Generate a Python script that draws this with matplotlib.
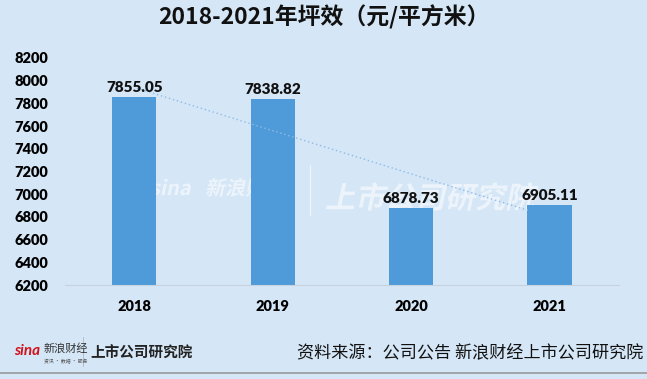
import numpy as np
import matplotlib.pyplot as plt
from matplotlib.textpath import TextPath
from matplotlib.patches import PathPatch
from matplotlib.font_manager import FontProperties
from matplotlib.transforms import Affine2D

plt.rcParams['font.family'] = ['Noto Sans CJK SC', 'DejaVu Sans']

# Data
years = ['2018', '2019', '2020', '2021']
values = [7855.05, 7838.82, 6878.73, 6905.11]
y_ticks = list(range(6200, 8201, 200))

bg = '#d5e6f6'
bar_color = '#4f9ad8'
num_font = ['Lato', 'Noto Sans CJK SC']

fig = plt.figure(figsize=(6.47, 3.79), dpi=100, facecolor=bg)
ax = fig.add_axes([0.1005, 0.248, 0.856, 0.599], facecolor=bg)


def watermark(s, x0, y0, size, alpha):
    # logo-like watermark drawn as a shape in pixel coordinates
    fp = FontProperties(family='Noto Sans CJK SC', weight='bold', style='italic')
    tp = TextPath((0, 0), s, size=size, prop=fp)
    tr = Affine2D().skew_deg(12, 0).translate(x0, y0)
    patch = PathPatch(tr.transform_path(tp), facecolor='white', edgecolor='none',
                      alpha=alpha, transform=None, zorder=1, clip_on=False)
    ax.add_artist(patch)


watermark('sina', 150, 379 - 195, 20, 0.55)
watermark('新浪财经', 205, 379 - 195, 20, 0.55)
ax.add_artist(plt.Line2D([310, 310], [379 - 215, 379 - 165], color='white', alpha=0.6,
                         linewidth=1, transform=None, clip_on=False, zorder=1))
watermark('上市公司研究院', 325, 379 - 208, 30, 0.55)

x = np.arange(len(years))
ax.bar(x, values, width=0.32, color=bar_color, zorder=2)

# linear trend line
k, b = np.polyfit(x, values, 1)
xt = np.array([0.02, 2.85])
ax.plot(xt, k * xt + b, linestyle=(0, (1, 2)), color='#8cbcea', linewidth=1.0, zorder=3)

for xi, v in zip(x, values):
    ax.text(xi, v + 25, f'{v:.2f}', ha='center', va='bottom', fontsize=11,
            fontweight='heavy', color='#111111', family=num_font, zorder=4)

ax.set_xlim(-0.5, 3.5)
ax.set_ylim(6200, 8200)
ax.set_yticks(y_ticks)
ax.set_xticks(x)
ax.set_xticklabels(years)
ax.tick_params(axis='both', length=0, labelsize=10.5)
ax.tick_params(axis='y', pad=12)
ax.tick_params(axis='x', pad=11)
for lbl in ax.get_xticklabels() + ax.get_yticklabels():
    lbl.set_fontweight('heavy')
    lbl.set_family(num_font)
for s in ['top', 'right', 'left']:
    ax.spines[s].set_visible(False)
ax.spines['bottom'].set_color('#c6d3df')

# title
fig.text(0.5, 0.955, '2018-2021年坪效（元/平方米）', ha='center', va='center',
         fontsize=16.5, fontweight='bold', color='#111111')

# footer
fig.text(0.022, 0.075, 'sina', fontsize=11, color='#d0121b', fontweight='bold',
         style='italic', ha='left', va='center', family=num_font)
fig.text(0.068, 0.08, '新浪财经', fontsize=8, color='#333333', ha='left', va='center')
fig.text(0.068, 0.045, '资讯 · 数据 · 服务', fontsize=3.5, color='#555555', ha='left', va='center')
fig.add_artist(plt.Line2D([0.128, 0.128], [0.035, 0.11], color='#b0b8c0', linewidth=0.6))
fig.text(0.139, 0.07, '上市公司研究院', fontsize=10.5, color='#222222', fontweight='bold',
         style='italic', ha='left', va='center')
fig.text(0.995, 0.068, '资料来源：公司公告 新浪财经上市公司研究院', fontsize=12.3,
         color='#111111', ha='right', va='center')
fig.add_artist(plt.Line2D([0, 1], [0.016, 0.016], color='#9a9a9a', linewidth=1.2))

fig.savefig('out.png', dpi=100, facecolor=bg)
